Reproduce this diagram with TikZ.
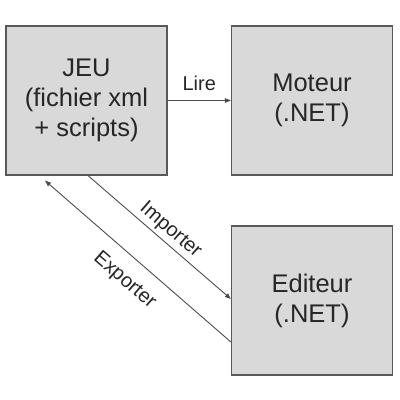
\documentclass[tikz,border=0pt]{standalone}
\usepackage{fontspec}
\setmainfont{Liberation Sans}
\usetikzlibrary{arrows.meta,calc}
\begin{document}
\begin{tikzpicture}[x=1pt,y=1pt,
  block/.style={draw=black!65, line width=1.2pt, fill=black!15,
    minimum width=161pt, minimum height=149pt, inner sep=0pt,
    align=center, font=\fontsize{25.5}{30}\selectfont, text=black!85},
  link/.style={draw=black!70, line width=0.9pt,
    -{Triangle[length=6pt,width=4.5pt]}},
  tag/.style={font=\fontsize{20}{23}\selectfont, text=black!85, inner sep=1pt}]
\useasboundingbox (0,0) rectangle (400,400);
\node[block] (jeu) at (86.5,299.5) {JEU\\(fichier xml\\+ scripts)};
\node[block] (moteur) at (312,299.5) {Moteur\\(.NET)};
\node[block] (editeur) at (312,99.5) {Editeur\\(.NET)};
\coordinate (impA) at ($(jeu.south)+(1.5,0)$);
\coordinate (impB) at ($(editeur.west)+(0,1.5)$);
\coordinate (expA) at ($(editeur.west)+(0,-41.5)$);
\coordinate (expB) at ($(jeu.south)+(-41.5,-5)$);
\draw[link] (jeu.east) -- node[tag, above=8pt] {Lire} (moteur.west);
\draw[link] (impA) -- node[tag, sloped, pos=0.52, above=2pt] {Importer} (impB);
\draw[link] (expA) -- node[tag, sloped, pos=0.49, below=13pt] {Exporter} (expB);
\end{tikzpicture}
\end{document}
